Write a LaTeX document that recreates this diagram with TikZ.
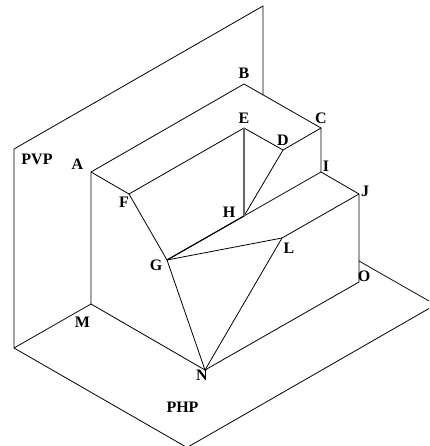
\documentclass[tikz,border=0pt]{standalone}
\usepackage{fontspec}
\setmainfont{Liberation Serif}
\tikzset{
  lbl/.style={font=\bfseries\fontsize{16}{16}\selectfont,inner sep=0pt,text=black},
  edge/.style={draw=black,line width=0.8pt},
  heavy/.style={draw=black!60,line width=1.4pt}
}
\begin{document}
\begin{tikzpicture}[x=1pt,y=-1pt]
\useasboundingbox (0,0) rectangle (429,446);
\clip (0,0) rectangle (429,446);
\coordinate (P1) at (14,149);
\coordinate (P2) at (263,6);
\coordinate (P3) at (263,95);
\coordinate (P4) at (14,348);
\coordinate (P5) at (187,447.5);
\coordinate (P6) at (429,308.5);
\coordinate (P7) at (429,301);
\coordinate (P8) at (359,261);
\coordinate (A) at (91,172);
\coordinate (B) at (244,84);
\coordinate (C) at (321,128);
\coordinate (D) at (283,150);
\coordinate (E) at (244,128);
\coordinate (F) at (129,194);
\coordinate (G) at (167,260);
\coordinate (H) at (244,216);
\coordinate (I) at (321,172);
\coordinate (J) at (359,194);
\coordinate (L) at (282,238);
\coordinate (M) at (91,304);
\coordinate (N) at (205,370);
\coordinate (O) at (359,282);
% planes
\draw[edge] (P3) -- (P2) -- (P1) -- (P4) -- (P5) -- (P6);
\draw[edge] (P7) -- (P8);
\draw[edge] (P4) -- (M);
% object
\draw[edge] (M) -- (A) -- (B) -- (C) -- (I) -- (J) -- (O) -- (N) -- (M);
\draw[edge] (A) -- (F) -- (E) -- (D) -- (C);
\draw[edge] (F) -- (G) -- (N) -- (L) -- (J);
\draw[edge] (G) -- (L);
\draw[edge] (D) -- (H);
\draw[edge] (G) -- (I);
\draw[heavy] (E) -- (H);
\draw[edge,line width=1.1pt] (G) -- (H);
% labels
\node[lbl] (tPVP) at (37,159.5) {PVP};
\node[lbl] (tPHP) at (182.5,407) {PHP};
\node[lbl] (tA) at (77.5,164) {A};
\node[lbl] (tB) at (244,73.5) {B};
\node[lbl] (tC) at (321,118) {C};
\node[lbl] (tD) at (283,140) {D};
\node[lbl] (tE) at (244,118) {E};
\node[lbl] (tF) at (124,202.5) {F};
\node[lbl] (tG) at (156,265) {G};
\node[lbl] (tH) at (229,212) {H};
\node[lbl] (tI) at (326,166) {I};
\node[lbl] (tJ) at (365,191) {J};
\node[lbl] (tL) at (289,248) {L};
\node[lbl] (tM) at (82.5,322.5) {M};
\node[lbl] (tN) at (202,375) {N};
\node[lbl] (tO) at (364,276) {O};
\end{tikzpicture}
\end{document}
